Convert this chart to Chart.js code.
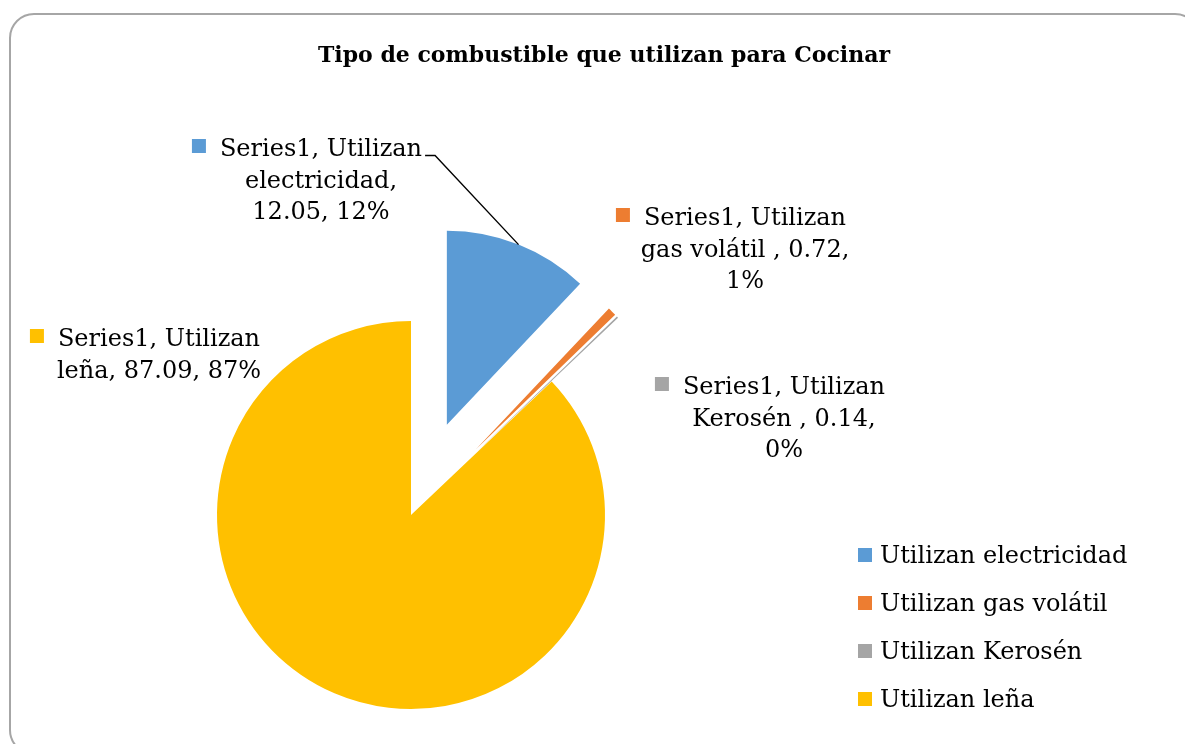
<!DOCTYPE html>
<html>
<head>
<meta charset="utf-8">
<title>Tipo de combustible que utilizan para Cocinar</title>
<script src="https://cdn.jsdelivr.net/npm/chart.js@4.4.1/dist/chart.umd.min.js"></script>
<style>
  html, body { margin: 0; padding: 0; background: #fff; }
  body { width: 1185px; height: 744px; overflow: hidden; position: relative; font-family: "DejaVu Serif", serif; color: #000; }
  #frame { position: absolute; left: 9px; top: 13px; width: 1191px; height: 742px; border: 2px solid #a6a6a6; border-radius: 25px; box-sizing: border-box; }
  #chart { position: absolute; left: 0; top: 0; }
  #title { position: absolute; left: 0; width: 1208px; top: 39px; line-height: 30px; text-align: center; font-weight: bold; font-size: 22px; }
  #legend { position: absolute; left: 858px; top: 531px; }
  .item { height: 48px; line-height: 48px; display: flex; align-items: center; font-size: 24px; white-space: pre; }
  .key { width: 14px; height: 14px; margin-right: 8px; flex: none; }
</style>
</head>
<body>
<div id="frame"></div>
<canvas id="chart" width="1185" height="744"></canvas>
<div id="title">Tipo de combustible que utilizan para Cocinar</div>
<div id="legend"></div>

<script>
const SERIES_NAME = "Series1";
const CATEGORIES = ["Utilizan electricidad", "Utilizan gas volátil ", "Utilizan Kerosén ", "Utilizan leña"];
const VALUES = [12.05, 0.72, 0.14, 87.09];
const COLORS = ["#5B9BD5", "#ED7D31", "#A5A5A5", "#FFC000"];

// how far each slice is pulled out of the pie (px)
const EXPLODE = [97, 92, 92, 0];

// where each data label sits: centre x, first baseline, words per line
const LABEL_SPOTS = [
  { cx: 321, y: 156, lines: [2, 1, 2], leader: true },
  { cx: 745, y: 225, lines: [2, 4, 1] },
  { cx: 784, y: 394, lines: [2, 3, 1] },
  { cx: 159, y: 346, lines: [2, 3] },
];

// legend
const legend = document.getElementById("legend");
CATEGORIES.forEach((cat, i) => {
  const row = document.createElement("div");
  row.className = "item";
  const key = document.createElement("span");
  key.className = "key";
  key.style.background = COLORS[i];
  row.appendChild(key);
  row.appendChild(document.createTextNode(cat.trim()));
  legend.appendChild(row);
});

// move exploded slices straight out along their middle angle (no resizing)
const Arc = Chart.registry.getElement("arc");
const baseArcDraw = Arc.prototype.draw;
Arc.prototype.draw = function (ctx) {
  const push = this.options.offset || 0;
  if (!push) return baseArcDraw.call(this, ctx);
  const mid = (this.startAngle + this.endAngle) / 2;
  const opts = this.options;
  ctx.save();
  ctx.translate(Math.cos(mid) * push, Math.sin(mid) * push);
  this.options = Object.assign({}, opts, { offset: 0 });
  baseArcDraw.call(this, ctx);
  this.options = opts;
  ctx.restore();
};

const sliceLabels = {
  id: "sliceLabels",
  afterDatasetsDraw(chart) {
    const ctx = chart.ctx;
    const meta = chart.getDatasetMeta(0);
    const total = VALUES.reduce((a, b) => a + b, 0);
    const lineH = 31.5;

    ctx.save();
    ctx.font = '24px "DejaVu Serif"';
    ctx.textAlign = "center";
    ctx.textBaseline = "alphabetic";

    meta.data.forEach((arc, i) => {
      const spot = LABEL_SPOTS[i];
      const pct = Math.round((VALUES[i] / total) * 100);
      const words = `${SERIES_NAME}, ${CATEGORIES[i]}, ${VALUES[i]}, ${pct}%`.split(/\s+/);

      const lines = [];
      let k = 0;
      spot.lines.forEach((n) => {
        lines.push(words.slice(k, k + n).join(" "));
        k += n;
      });

      ctx.fillStyle = "#000";
      lines.forEach((ln, j) => ctx.fillText(ln, spot.cx, spot.y + j * lineH));

      const w1 = ctx.measureText(lines[0]).width;
      const keyRight = spot.cx - w1 / 2 - 14;
      ctx.fillStyle = COLORS[i];
      ctx.fillRect(keyRight - 14, spot.y - 17, 14, 14);

      if (spot.leader) {
        const mid = (arc.startAngle + arc.endAngle) / 2;
        const r = arc.outerRadius + (arc.options.offset || 0);
        const ex = arc.x + Math.cos(mid) * r;
        const ey = arc.y + Math.sin(mid) * r;
        const sx = spot.cx + w1 / 2 + 3;
        ctx.strokeStyle = "#000";
        ctx.lineWidth = 1.4;
        ctx.beginPath();
        ctx.moveTo(sx, spot.y - 0.5);
        ctx.lineTo(sx + 10, spot.y - 0.5);
        ctx.lineTo(ex, ey);
        ctx.stroke();
      }
    });
    ctx.restore();
  },
};

new Chart(document.getElementById("chart"), {
  type: "pie",
  data: {
    labels: CATEGORIES,
    datasets: [
      {
        label: SERIES_NAME,
        data: VALUES,
        backgroundColor: COLORS,
        offset: EXPLODE,
        borderWidth: 0,
        radius: 194,
      },
    ],
  },
  options: {
    responsive: false,
    animation: false,
    events: [],
    layout: { padding: { left: 217, right: 580, top: 321, bottom: 35 } },
    plugins: {
      legend: { display: false },
      title: { display: false },
      tooltip: { enabled: false },
    },
  },
  plugins: [sliceLabels],
});
</script>
</body>
</html>
